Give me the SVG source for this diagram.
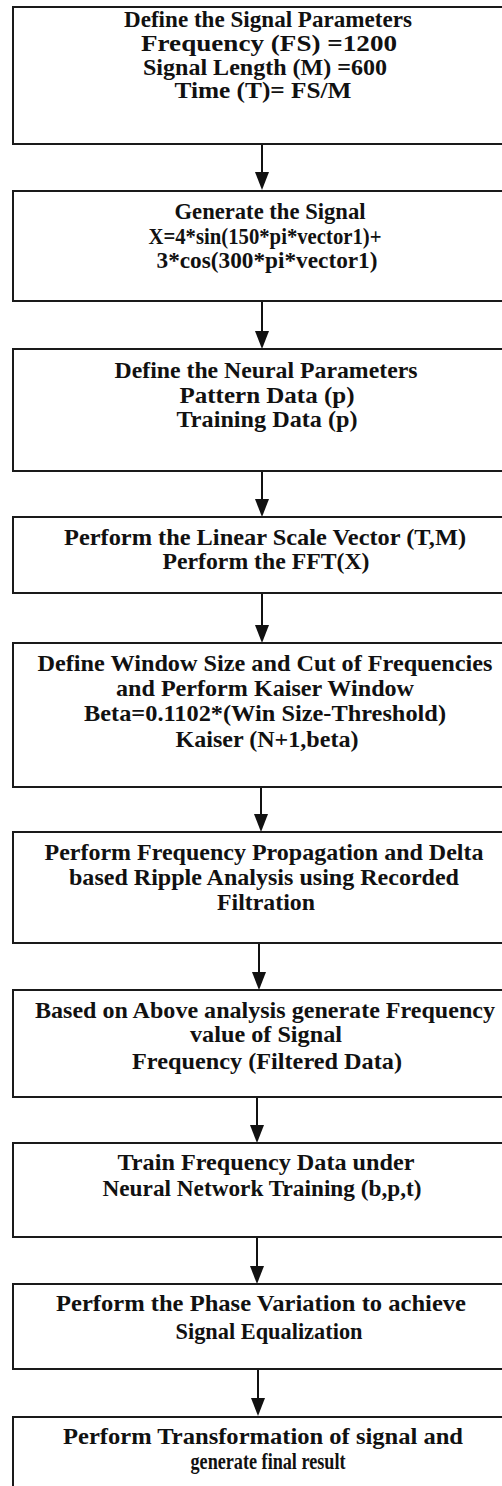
<svg xmlns="http://www.w3.org/2000/svg" width="502" height="1486" viewBox="0 0 502 1486">
<style>
.box{fill:#fff;stroke:#1a1a1a;stroke-width:2}
.t{font-family:"Liberation Serif","Times New Roman",serif;font-weight:bold;font-size:23px;fill:#111;text-anchor:middle}
.c{stroke:#111;stroke-width:2;fill:none}
.h{fill:#111}
</style>
<rect width="502" height="1486" fill="#fff"/>
<g id="connectors">
<line class="c" x1="262" y1="144" x2="262" y2="176"/><polygon class="h" points="255,172 269,172 262,190"/>
<line class="c" x1="262" y1="301" x2="262" y2="334"/><polygon class="h" points="255,331 269,331 262,349"/>
<line class="c" x1="262" y1="471" x2="262" y2="502"/><polygon class="h" points="255,499 269,499 262,517"/>
<line class="c" x1="262" y1="593" x2="262" y2="628"/><polygon class="h" points="255,625 269,625 262,643"/>
<line class="c" x1="261" y1="787" x2="261" y2="817"/><polygon class="h" points="254,814 268,814 261,832"/>
<line class="c" x1="259" y1="943" x2="259" y2="975"/><polygon class="h" points="252,972 266,972 259,990"/>
<line class="c" x1="257" y1="1097" x2="257" y2="1128"/><polygon class="h" points="250,1125 264,1125 257,1143"/>
<line class="c" x1="257" y1="1237" x2="257" y2="1269"/><polygon class="h" points="250,1266 264,1266 257,1284"/>
<line class="c" x1="258" y1="1369" x2="258" y2="1401"/><polygon class="h" points="251,1398 265,1398 258,1416"/>
</g>
<g id="n1"><rect class="box" x="13" y="7" width="504" height="137"/>
<text class="t" x="268" y="27" textLength="288" lengthAdjust="spacingAndGlyphs">Define the Signal Parameters</text>
<text class="t" x="269" y="51" textLength="256" lengthAdjust="spacingAndGlyphs">Frequency (FS) =1200</text>
<text class="t" x="265" y="75" textLength="244" lengthAdjust="spacingAndGlyphs">Signal Length (M) =600</text>
<text class="t" x="263" y="98" textLength="177" lengthAdjust="spacingAndGlyphs">Time (T)= FS/M</text></g>
<g id="n2"><rect class="box" x="13" y="191" width="504" height="110"/>
<text class="t" x="270" y="219" textLength="191" lengthAdjust="spacingAndGlyphs">Generate the Signal</text>
<text class="t" x="265" y="244" textLength="233" lengthAdjust="spacingAndGlyphs">X=4*sin(150*pi*vector1)+</text>
<text class="t" x="267" y="268" textLength="221" lengthAdjust="spacingAndGlyphs">3*cos(300*pi*vector1)</text></g>
<g id="n3"><rect class="box" x="13" y="349" width="504" height="122"/>
<text class="t" x="266" y="378" textLength="303" lengthAdjust="spacingAndGlyphs">Define the Neural Parameters</text>
<text class="t" x="267" y="403" textLength="175" lengthAdjust="spacingAndGlyphs">Pattern Data (p)</text>
<text class="t" x="267" y="427" textLength="181" lengthAdjust="spacingAndGlyphs">Training Data (p)</text></g>
<g id="n4"><rect class="box" x="13" y="517" width="504" height="76"/>
<text class="t" x="265" y="545" textLength="402" lengthAdjust="spacingAndGlyphs">Perform the Linear Scale Vector (T,M)</text>
<text class="t" x="266" y="569" textLength="207" lengthAdjust="spacingAndGlyphs">Perform the FFT(X)</text></g>
<g id="n5"><rect class="box" x="13" y="643" width="504" height="144"/>
<text class="t" x="265" y="671" textLength="455" lengthAdjust="spacingAndGlyphs">Define Window Size and Cut of Frequencies</text>
<text class="t" x="265" y="696" textLength="298" lengthAdjust="spacingAndGlyphs">and Perform Kaiser Window</text>
<text class="t" x="265" y="721" textLength="362" lengthAdjust="spacingAndGlyphs">Beta=0.1102*(Win Size-Threshold)</text>
<text class="t" x="267" y="747" textLength="183" lengthAdjust="spacingAndGlyphs">Kaiser (N+1,beta)</text></g>
<g id="n6"><rect class="box" x="13" y="832" width="504" height="111"/>
<text class="t" x="264" y="860" textLength="439" lengthAdjust="spacingAndGlyphs">Perform Frequency Propagation and Delta</text>
<text class="t" x="264" y="885" textLength="390" lengthAdjust="spacingAndGlyphs">based Ripple Analysis using Recorded</text>
<text class="t" x="266" y="910" textLength="98" lengthAdjust="spacingAndGlyphs">Filtration</text></g>
<g id="n7"><rect class="box" x="13" y="990" width="504" height="107"/>
<text class="t" x="265" y="1018" textLength="460" lengthAdjust="spacingAndGlyphs">Based on Above analysis generate Frequency</text>
<text class="t" x="266" y="1042" textLength="152" lengthAdjust="spacingAndGlyphs">value of Signal</text>
<text class="t" x="267" y="1069" textLength="270" lengthAdjust="spacingAndGlyphs">Frequency (Filtered Data)</text></g>
<g id="n8"><rect class="box" x="13" y="1143" width="504" height="94"/>
<text class="t" x="266" y="1170" textLength="297" lengthAdjust="spacingAndGlyphs">Train Frequency Data under</text>
<text class="t" x="262" y="1196" textLength="319" lengthAdjust="spacingAndGlyphs">Neural Network Training (b,p,t)</text></g>
<g id="n9"><rect class="box" x="13" y="1284" width="504" height="85"/>
<text class="t" x="261" y="1311" textLength="410" lengthAdjust="spacingAndGlyphs">Perform the Phase Variation to achieve</text>
<text class="t" x="269" y="1339" textLength="187" lengthAdjust="spacingAndGlyphs">Signal Equalization</text></g>
<g id="n10"><rect class="box" x="13" y="1417" width="504" height="100"/>
<text class="t" x="263" y="1444" textLength="400" lengthAdjust="spacingAndGlyphs">Perform Transformation of signal and</text>
<text class="t" x="268" y="1469" textLength="155" lengthAdjust="spacingAndGlyphs">generate final result</text></g>
</svg>
